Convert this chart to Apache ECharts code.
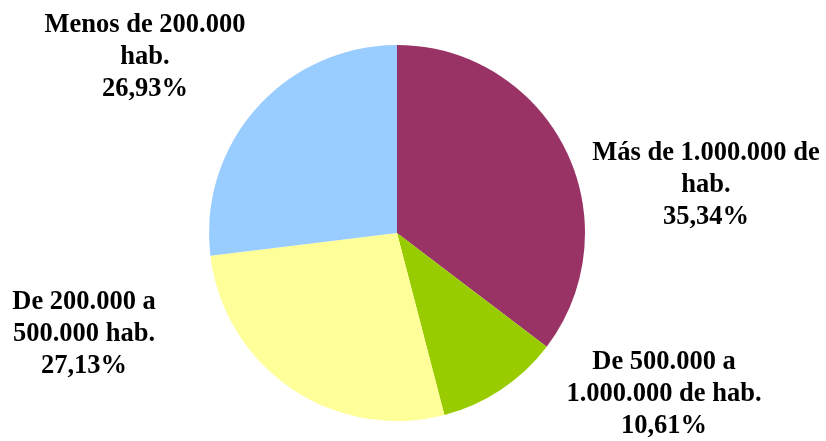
<!DOCTYPE html>
<html>
<head>
<meta charset="utf-8">
<script src="https://cdn.jsdelivr.net/npm/echarts@6/dist/echarts.min.js"></script>
<style>
  html, body { margin: 0; padding: 0; background: #fff; }
  #map { width: 826px; height: 441px; }
</style>
</head>
<body>
<div id="map"></div>
<script>
let categories = ['Más de 1.000.000 de\nhab.', 'De 500.000 a\n1.000.000 de hab.', 'De 200.000 a\n500.000 hab.', 'Menos de 200.000\nhab.'];
let values = [35.34, 10.61, 27.13, 26.93];
let colors = ['#993366', '#99cc00', '#ffff99', '#99ccff'];

// where each label block sits (center of text)
let labelPos = [[706, 185], [664, 394], [84, 334], [145, 57]];

let myChart = echarts.init(document.getElementById('map'));
let option = {
    animation: false,
    series: [
        {
            type: 'pie',
            center: [397, 233],
            radius: 188,
            startAngle: 90,
            clockwise: true,
            data: categories.map((c, i) => ({
                name: c,
                value: values[i],
                itemStyle: {color: colors[i]}
            })),
            label: {
                show: true,
                position: 'outside',
                formatter: p => p.name + '\n' + p.value.toFixed(2).replace('.', ',') + '%',
                fontFamily: '"Liberation Serif", "Times New Roman", serif',
                fontWeight: 'bold',
                fontSize: 26.5,
                lineHeight: 32,
                color: '#000',
                align: 'center',
                overflow: 'none',
                width: 300
            },
            edgeDistance: 0,
            labelLine: {show: false},
            labelLayout: params => ({
                x: labelPos[params.dataIndex][0],
                y: labelPos[params.dataIndex][1],
                align: 'center',
                verticalAlign: 'middle'
            }),
            emphasis: {disabled: true}
        }
    ]
};
myChart.setOption(option);
</script>
</body>
</html>
